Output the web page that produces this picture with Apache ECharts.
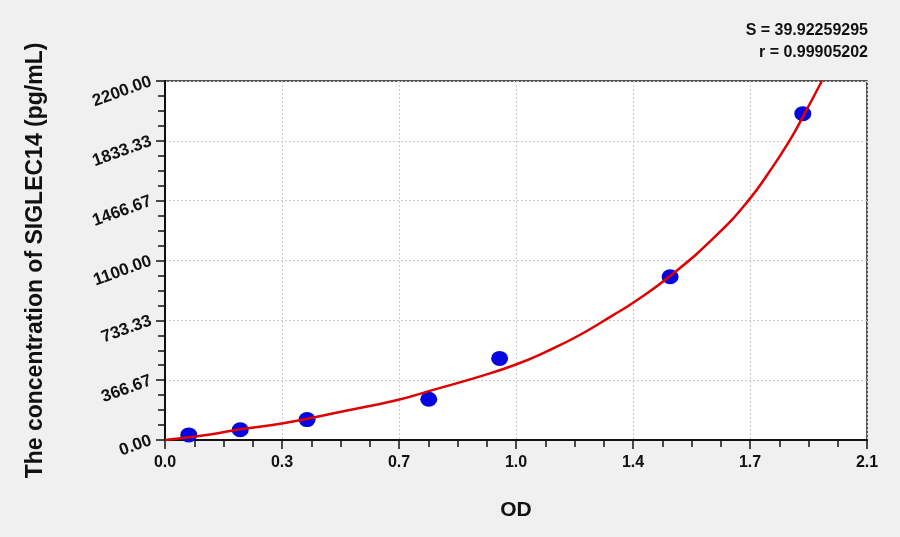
<!DOCTYPE html>
<html>
<head>
<meta charset="utf-8">
<script src="https://cdn.jsdelivr.net/npm/echarts@6/dist/echarts.min.js"></script>
<style>
html,body{margin:0;padding:0;background:#f0f0f0;}
#chart{width:900px;height:537px;}
</style>
</head>
<body>
<div id="chart"></div>
<script>
// Standard points (OD, concentration)
const pointOD = [0.071, 0.225, 0.425, 0.789, 1.001, 1.511, 1.908];
const pointConc = [31.25, 62.5, 125, 250, 500, 1000, 2000];
// Fitted curve
const curveOD = [0, 0.135, 0.225, 0.35, 0.534, 0.699, 0.787, 0.943, 1.048, 1.142, 1.242, 1.342, 1.398, 1.511, 1.65, 1.745, 1.81, 1.868, 1.908, 1.965];
const curveConc = [0, 34, 66, 101, 176, 247, 298, 390, 461, 543, 645, 767, 838, 1005, 1255, 1467, 1650, 1833, 1980, 2200];
// Tick labels
const xTickLabels = ['0.0', '0.3', '0.7', '1.0', '1.4', '1.7', '2.1'];
const yTickLabels = ['0.00', '366.67', '733.33', '1100.00', '1466.67', '1833.33', '2200.00'];
const statS = 'S = 39.92259295';
const statR = 'r = 0.99905202';

const xStep = 2.1 / 6;
const yStep = 2200 / 6;

const chart = echarts.init(document.getElementById('chart'));
chart.setOption({
  backgroundColor: '#f0f0f0',
  animation: false,
  grid: {
    left: 165, right: 33, top: 81, bottom: 97,
    show: true, backgroundColor: '#ffffff', borderColor: '#222', borderWidth: 1.5
  },
  graphic: [
    { type: 'text', right: 32, top: 23, style: { text: statS, font: 'bold 16px "Liberation Sans", Arial, sans-serif', fill: '#111', textAlign: 'right' } },
    { type: 'text', right: 32, top: 45, style: { text: statR, font: 'bold 16px "Liberation Sans", Arial, sans-serif', fill: '#111', textAlign: 'right' } }
  ],
  xAxis: {
    type: 'value', min: 0, max: 2.1, interval: xStep,
    name: 'OD', nameLocation: 'middle', nameGap: 60,
    nameTextStyle: { fontSize: 21, fontWeight: 'bold', color: '#111', fontFamily: '"Liberation Sans", Arial' },
    axisLine: { show: true, onZero: false, lineStyle: { color: '#111', width: 2 } },
    axisTick: { show: true, inside: false, length: 9, lineStyle: { color: '#111', width: 1.5 } },
    minorTick: { show: true, splitNumber: 4, length: 7, lineStyle: { color: '#111', width: 1.5 } },
    axisLabel: {
      margin: 15, fontSize: 16, fontWeight: 'bold', color: '#111',
      fontFamily: '"Liberation Sans", Arial',
      formatter: v => xTickLabels[Math.round(v / xStep)] ?? ''
    },
    splitLine: { show: true, lineStyle: { color: '#cccccc', type: [2, 2], width: 1 } }
  },
  yAxis: {
    type: 'value', min: 0, max: 2200, interval: yStep,
    name: 'The concentration of SIGLEC14 (pg/mL)', nameLocation: 'middle', nameGap: 118,
    nameTextStyle: { fontSize: 23, fontWeight: 'bold', color: '#111', fontFamily: '"Liberation Sans", Arial' },
    axisLine: { show: true, onZero: false, lineStyle: { color: '#111', width: 2 } },
    axisTick: { show: true, inside: false, length: 9, lineStyle: { color: '#111', width: 1.5 } },
    minorTick: { show: true, splitNumber: 4, length: 7, lineStyle: { color: '#111', width: 1.5 } },
    axisLabel: {
      margin: 14, fontSize: 17, fontWeight: 'bold', color: '#111', rotate: 20,
      fontFamily: '"Liberation Sans", Arial',
      formatter: v => yTickLabels[Math.round(v / yStep)] ?? ''
    },
    splitLine: { show: true, lineStyle: { color: '#cccccc', type: [2, 2], width: 1 } }
  },
  series: [
    {
      type: 'scatter', z: 2,
      data: pointOD.map((x, i) => [x, pointConc[i]]),
      symbol: 'circle', symbolSize: [17, 15],
      itemStyle: { color: '#0505e0', opacity: 1 }
    },
    {
      type: 'line', z: 3,
      data: curveOD.map((x, i) => [x, curveConc[i]]),
      smooth: 0.5, showSymbol: false, symbol: 'none',
      lineStyle: { color: '#e00000', width: 2.5 }
    }
  ]
});
</script>
</body>
</html>
